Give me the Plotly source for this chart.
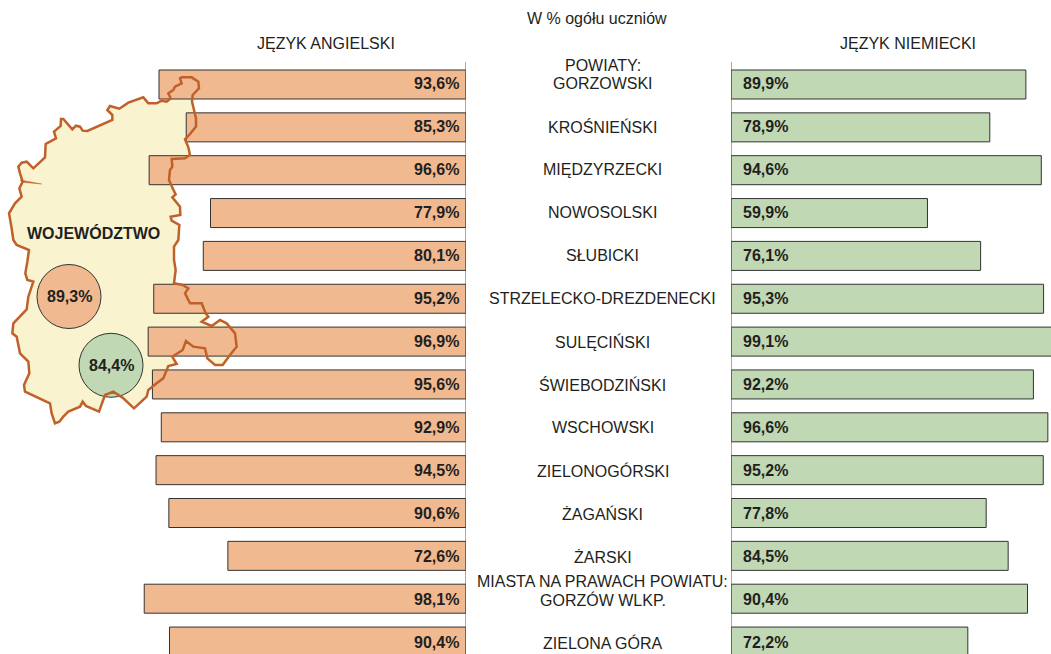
import plotly.graph_objects as go

W, H = 1051, 654

categories = ["GORZOWSKI", "KROŚNIEŃSKI", "MIĘDZYRZECKI", "NOWOSOLSKI", "SŁUBICKI",
              "STRZELECKO-DREZDENECKI", "SULĘCIŃSKI", "ŚWIEBODZIŃSKI", "WSCHOWSKI",
              "ZIELONOGÓRSKI", "ŻAGAŃSKI", "ŻARSKI", "GORZÓW WLKP.", "ZIELONA GÓRA"]
angielski = [93.6, 85.3, 96.6, 77.9, 80.1, 95.2, 96.9, 95.6, 92.9, 94.5, 90.6, 72.6, 98.1, 90.4]
niemiecki = [89.9, 78.9, 94.6, 59.9, 76.1, 95.3, 99.1, 92.2, 96.6, 95.2, 77.8, 84.5, 90.4, 72.2]
group_headers = {"GORZOWSKI": "POWIATY:", "GORZÓW WLKP.": "MIASTA NA PRAWACH POWIATU:"}
woj_angielski = 89.3
woj_niemiecki = 84.4

ORANGE, GREEN, EDGE, INK, MAPFILL, MAPLINE = "#F0B990", "#C1D8B4", "#333333", "#231F20", "#F9F3CF", "#C0602A"
FONT = "Liberation Sans"


def pl(v):
    return f"{v:.1f}%".replace(".", ",")


# decorative region outline (3x zoom pixel tracing)
north = [(545,52),(575,52),(595,65),(597,85),(578,105),(576,125),(582,150),(588,175),(588,200),(570,222),
         (555,238),(565,262),(570,285),(555,295),(515,297),(517,320),(510,330),(507,360),(518,385),(527,403),
         (517,412),(540,440),(541,465),(512,470),(515,482),(538,495),(535,540)]
south = [(522,20),(522,60),(527,90),(522,130),(548,135),(565,145),(555,160),(570,190),(605,190),(617,220),
         (625,230),(605,245),(635,258),(660,240),(680,250),(705,280),(710,320),(690,345),(668,375),(645,375),
         (622,355),(615,325),(580,320),(558,303),(548,330),(517,350),(530,372),(505,378),(490,415),(470,430),
         (445,450),(440,470),(402,505),(370,475),(340,455),(315,465),(297,515),(258,498),(248,485),(240,500),
         (205,515),(190,530),(178,545),(165,550),(155,520),(150,490),(75,455),(72,435),(88,400),(85,365),
         (60,340),(50,290),(37,280),(40,250),(80,208),(85,170),(100,125),(82,120),(76,100),(82,65),(87,30),
         (50,15),(40,0)]
west = [(35,505),(27,460),(45,430),(65,410),(58,385),(68,365),(60,340),(55,320),(65,308),(80,305),(100,325),
        (135,292),(137,252),(168,235),(162,215),(182,198),(183,177),(190,177),(217,208),(228,197),(240,200),
        (248,212),(262,213),(337,180),(337,165),(322,150),(330,138),(358,146),(385,128),(430,112),(445,130),
        (470,130),(485,122),(500,125),(512,115),(505,100),(520,90),(525,80),(545,70),(540,55)]


def px(p, yoff):
    return (p[0] / 3 / W, 1 - (yoff + p[1] / 3) / H)


outline = [px(p, 60) for p in north] + [px(p, 240) for p in south] + [px(p, 60) for p in west]
path = "M " + " L ".join(f"{x:.5f},{y:.5f}" for x, y in outline) + " Z"
spur = "M " + " L ".join(f"{x:.5f},{y:.5f}" for x, y in [px((60, 360), 60), px((125, 372), 60), px((68, 367), 60)]) + " Z"

SCALE = 3.28  # px per percent
ROW = 42.85   # px per row
fig = go.Figure()
bar_style = dict(width=29 / ROW, orientation="h", hoverinfo="skip", showlegend=False)
fig.add_trace(go.Bar(y=categories, x=angielski, xaxis="x", yaxis="y",
                     marker=dict(color=ORANGE, line=dict(color=EDGE, width=1)), **bar_style))
fig.add_trace(go.Bar(y=categories, x=niemiecki, xaxis="x2", yaxis="y",
                     marker=dict(color=GREEN, line=dict(color=EDGE, width=1)), **bar_style))

ann = []
f_txt = dict(family=FONT, size=16, color=INK)
f_bold = dict(family=FONT, size=16, color=INK, weight="bold")
mid = dict(showarrow=False, yanchor="middle")
for i, (c, a, n) in enumerate(zip(categories, angielski, niemiecki)):
    # the reference's labels drift about 2 px against its bars over the full height
    drift = -(0.15 * i) - 0
    ys = 1 + drift
    ann.append(dict(xref="x", yref="y", x=0, y=c, text=pl(a), xanchor="right", xshift=-5, yshift=ys, font=f_bold, **mid))
    ann.append(dict(xref="x2", yref="y", x=0, y=c, text=pl(n), xanchor="left", xshift=10, yshift=ys, font=f_bold, **mid))
    ann.append(dict(xref="paper", yref="y", x=602.5 / W, y=c, text=c, xanchor="center", yshift=ys, font=f_txt, **mid))
    if c in group_headers:
        ann.append(dict(xref="paper", yref="y", x=602.5 / W, y=c, text=group_headers[c], xanchor="center",
                        yshift=ys + 18, font=f_txt, **mid))


def label(x, y, t, f):
    ann.append(dict(xref="paper", yref="paper", x=x / W, y=1 - y / H, text=t, xanchor="center", font=f, **mid))


label(596.5, 18.5, "W % ogółu uczniów", f_txt)
label(325.5, 44, "JĘZYK ANGIELSKI", f_txt)
label(907.5, 44, "JĘZYK NIEMIECKI", f_txt)
label(93, 233, "WOJEWÓDZTWO", f_bold)
label(69, 296.5, pl(woj_angielski), f_bold)
label(111, 365, pl(woj_niemiecki), f_bold)


def circle(cx, cy, r, color):
    return dict(type="circle", xref="paper", yref="paper", x0=(cx - r) / W, x1=(cx + r) / W,
                y0=1 - (cy + r) / H, y1=1 - (cy - r) / H, fillcolor=color,
                line=dict(color=EDGE, width=1), layer="above")


shapes = [
    dict(type="path", xref="paper", yref="paper", path=path, fillcolor=MAPFILL, line=dict(width=0), layer="below"),
    circle(69, 296.5, 32, ORANGE),
    circle(111, 365.3, 32, GREEN),
    dict(type="path", xref="paper", yref="paper", path=path, line=dict(color=MAPLINE, width=2.5), layer="above"),
    dict(type="path", xref="paper", yref="paper", path=spur, fillcolor=MAPLINE, line=dict(color=MAPLINE, width=0.5), layer="above"),
    dict(type="line", xref="x", yref="paper", x0=0, x1=0, y0=0, y1=1 - 62 / H, line=dict(color="#555555", width=1), layer="above"),
    dict(type="line", xref="x2", yref="paper", x0=0, x1=0, y0=0, y1=1 - 62 / H, line=dict(color="#555555", width=1), layer="above"),
]

fig.update_layout(
    width=W, height=H, autosize=False, margin=dict(l=0, r=0, t=0, b=0),
    paper_bgcolor="white", plot_bgcolor="rgba(0,0,0,0)", barmode="overlay",
    xaxis=dict(domain=[0, 466 / W], range=[466 / SCALE, 0], visible=False, fixedrange=True),
    xaxis2=dict(domain=[731 / W, 1], range=[0, 320 / SCALE], visible=False, anchor="y", fixedrange=True),
    yaxis=dict(type="category", categoryorder="array", categoryarray=categories,
               range=[(H - 84.5) / ROW, -84.5 / ROW], visible=False, fixedrange=True),
    annotations=ann, shapes=shapes,
)
fig.write_html("out.html", config={"displayModeBar": False},
               post_script="document.body.style.margin='0';document.body.style.overflow='hidden';")
